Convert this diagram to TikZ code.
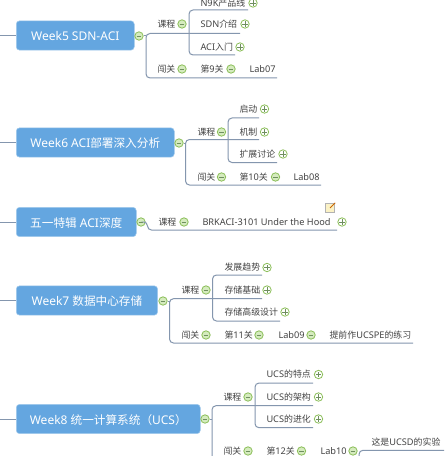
\documentclass[tikz,border=0pt]{standalone}
\usepackage{fontspec}
\setmainfont{Noto Sans}
\newfontfamily\zhfont[Scale=0.97]{Noto Sans CJK SC}
\newcommand{\zh}[1]{{\zhfont #1}}
\usetikzlibrary{positioning}
\definecolor{cweek}{HTML}{64A6E0}
\definecolor{cline}{HTML}{8496AE}
\definecolor{ctext}{HTML}{444444}
\definecolor{cring}{HTML}{8CBF5A}
\definecolor{cfill}{HTML}{D5EBBE}
\definecolor{cbar}{HTML}{6F8F5F}
\definecolor{cnote}{HTML}{F7E27E}
\tikzset{
  every picture/.style={font=\fontsize{6.9pt}{8pt}\selectfont, line width=0.75pt},
  week/.style={draw=cweek!60, line width=0.4pt, fill=cweek, text=white, rounded corners=2.5pt, anchor=west, inner sep=0pt,
               minimum height=22pt, text height=8.5pt, text depth=0.6pt, font=\fontsize{9pt}{10pt}\selectfont, align=center},
  lbl/.style={text=ctext, anchor=west, inner sep=0pt, text height=6.5pt, text depth=0.7pt},
  fold/.style={circle, draw=cring, line width=0.6pt, minimum size=6.3pt, inner sep=0pt},
  foldm/.style={fold, fill=cfill, path picture={
      \draw[cbar, line width=0.6pt] ([xshift=1.3pt]path picture bounding box.west) -- ([xshift=-1.3pt]path picture bounding box.east);}},
  foldp/.style={fold, fill=white, path picture={
      \draw[cbar, line width=0.6pt] ([xshift=1.1pt]path picture bounding box.west) -- ([xshift=-1.1pt]path picture bounding box.east);
      \draw[cbar, line width=0.6pt] ([yshift=1.1pt]path picture bounding box.south) -- ([yshift=-1.1pt]path picture bounding box.north);}},
  link/.style={draw=cline, line width=0.75pt, rounded corners=3pt},
}
\begin{document}
\begin{tikzpicture}[x=0.75pt, y=-0.75pt]
  \clip (0,0) rectangle (448,456);
  \fill[white] (0,0) rectangle (448,456);

  % Week5
  \node[week, minimum width=88.5pt] (w5) at (16,35.5) {Week5 SDN-ACI};
  \node[foldm] (w5f) at (139,36) {};
  \coordinate (w5in) at (0,35.5);
  \coordinate (w5j) at (146,33.5);
  \coordinate (w5s) at (189,33.5);
  \coordinate (w5e1) at (248,10);
  \coordinate (w5e2) at (240,33.5);
  \coordinate (w5e3) at (235,55);
  \coordinate (w5e4) at (277,78);
  \node[lbl] (w5c) at (157,24) {\zh{课程}};
  \node[foldm] (w5cf) at (182,24) {};
  \node[lbl] (w5a) at (200,2.5) {N9K\zh{产品线}};
  \node[foldp] (w5ap) at (253,3) {};
  \node[lbl] (w5b) at (200,24) {SDN\zh{介绍}};
  \node[foldp] (w5bp) at (245,24) {};
  \node[lbl] (w5d) at (200,47) {ACI\zh{入门}};
  \node[foldp] (w5dp) at (240,47) {};
  \node[lbl] (w5g) at (157,69) {\zh{闯关}};
  \node[foldm] (w5gf) at (182,69) {};
  \node[lbl] (w5h) at (200,69) {\zh{第}9\zh{关}};
  \node[foldm] (w5hf) at (231,69) {};
  \node[lbl] (w5l) at (249,69) {Lab07};

  % Week6
  \node[week, minimum width=118.5pt] (w6) at (16,142.5) {Week6 ACI\zh{部署深入分析}};
  \node[foldm] (w6f) at (179,143) {};
  \coordinate (w6in) at (0,142.5);
  \coordinate (w6j) at (185.5,139.5);
  \coordinate (w6s) at (228,139.5);
  \coordinate (w6e1) at (259,118);
  \coordinate (w6e2) at (259,139.5);
  \coordinate (w6e3) at (277,162.5);
  \coordinate (w6e4) at (321,185);
  \node[lbl] (w6c) at (197,132) {\zh{课程}};
  \node[foldm] (w6cf) at (221.5,132) {};
  \node[lbl] (w6a) at (239,109) {\zh{启动}};
  \node[foldp] (w6ap) at (264.5,109) {};
  \node[lbl] (w6b) at (239,132) {\zh{机制}};
  \node[foldp] (w6bp) at (264.5,132) {};
  \node[lbl] (w6d) at (239,154) {\zh{扩展讨论}};
  \node[foldp] (w6dp) at (283,154) {};
  \node[lbl] (w6g) at (197,177) {\zh{闯关}};
  \node[foldm] (w6gf) at (221.5,177) {};
  \node[lbl] (w6h) at (239,177) {\zh{第}10\zh{关}};
  \node[foldm] (w6hf) at (275.5,177) {};
  \node[lbl] (w6l) at (293,177) {Lab08};

  % May Day special
  \node[week, minimum width=90pt] (sp) at (16,222) {\zh{五一特辑} ACI\zh{深度}};
  \node[foldm] (spf) at (141,222) {};
  \coordinate (spin) at (0,222);
  \coordinate (spj) at (147.5,222);
  \coordinate (spe) at (337,230);
  \node[lbl] (spc) at (158,222) {\zh{课程}};
  \node[foldm] (spcf) at (184,222) {};
  \node[lbl] (spa) at (202,222) {BRKACI-3101 Under the Hood};
  \node[foldp] (spap) at (342,222) {};
  \node[draw=gray!60, fill=cnote!45, minimum size=7pt, inner sep=0pt] (spn) at (330,208) {};
  \draw[orange!80!black, line width=0.7pt] (spn.center) -- (spn.north east);

  % Week7
  \node[week, minimum width=106pt] (w7) at (16,300.5) {Week7 \zh{数据中心存储}};
  \node[foldm] (w7f) at (163,301) {};
  \coordinate (w7in) at (0,300.5);
  \coordinate (w7j) at (169.5,298.7);
  \coordinate (w7s) at (212.5,298.7);
  \coordinate (w7e1) at (262,275);
  \coordinate (w7e2) at (262,298.7);
  \coordinate (w7e3) at (280,321);
  \coordinate (w7e4) at (413,343);
  \node[lbl] (w7c) at (181,290) {\zh{课程}};
  \node[foldm] (w7cf) at (206,290) {};
  \node[lbl] (w7a) at (224,267) {\zh{发展趋势}};
  \node[foldp] (w7ap) at (267,267.5) {};
  \node[lbl] (w7b) at (224,290) {\zh{存储基础}};
  \node[foldp] (w7bp) at (267,290) {};
  \node[lbl] (w7d) at (224,312) {\zh{存储高级设计}};
  \node[foldp] (w7dp) at (285,312) {};
  \node[lbl] (w7g) at (181,335) {\zh{闯关}};
  \node[foldm] (w7gf) at (206,335) {};
  \node[lbl] (w7h) at (224,335) {\zh{第}11\zh{关}};
  \node[foldm] (w7hf) at (259,335) {};
  \node[lbl] (w7l) at (278,335) {Lab09};
  \node[foldm] (w7lf) at (311,335) {};
  \node[lbl] (w7t) at (329,335) {\zh{提前作}UCSPE\zh{的练习}};

  % Week8
  \node[week, minimum width=138pt] (w8) at (16,419) {Week8 \zh{统一计算系统（}UCS\zh{）}};
  \node[foldm] (w8f) at (205,419) {};
  \coordinate (w8in) at (0,419);
  \coordinate (w8j) at (212,405.7);
  \coordinate (w8s) at (255,405.7);
  \coordinate (w8e1) at (313,383);
  \coordinate (w8e2) at (313,405.7);
  \coordinate (w8e3) at (313,427.7);
  \coordinate (w8e4) at (470,480);
  \coordinate (w8q) at (359,470);
  \coordinate (w8r) at (444,450.3);
  \node[lbl] (w8c) at (223,397) {\zh{课程}};
  \node[foldm] (w8cf) at (248,397) {};
  \node[lbl] (w8a) at (266,374) {UCS\zh{的特点}};
  \node[foldp] (w8ap) at (318.5,374.5) {};
  \node[lbl] (w8b) at (266,397) {UCS\zh{的架构}};
  \node[foldp] (w8bp) at (318.5,397) {};
  \node[lbl] (w8d) at (266,419) {UCS\zh{的进化}};
  \node[foldp] (w8dp) at (318.5,419) {};
  \node[lbl] (w8g) at (223,451) {\zh{闯关}};
  \node[foldm] (w8gf) at (248,451) {};
  \node[lbl] (w8h) at (266,451) {\zh{第}12\zh{关}};
  \node[foldm] (w8hf) at (301.5,451) {};
  \node[lbl] (w8l) at (320,451) {Lab10};
  \node[foldm] (w8lf) at (353,451) {};
  \node[lbl] (w8t) at (371,441.5) {\zh{这是}UCSD\zh{的实验}};
  \draw[link] (w8r) -- (w8q |- w8r) -- (w8q);

  % connectors
  \foreach \w in {w5, w6, sp, w7, w8} \draw[link] (\w in) -- (\w.west);
  \foreach \w in {w5, w6, w7, w8} {
    \draw[link] (\w f.east) -- (\w j |- \w f);
    \draw[link] (\w e2) -- (\w j) -- (\w j |- \w e4) -- (\w e4);
    \draw[link] (\w e1) -- (\w s |- \w e1) -- (\w s |- \w e3) -- (\w e3);
  }
  \draw[link] (spf.east) -- (spj) -- (spj |- spe) -- (spe);
\end{tikzpicture}
\end{document}
